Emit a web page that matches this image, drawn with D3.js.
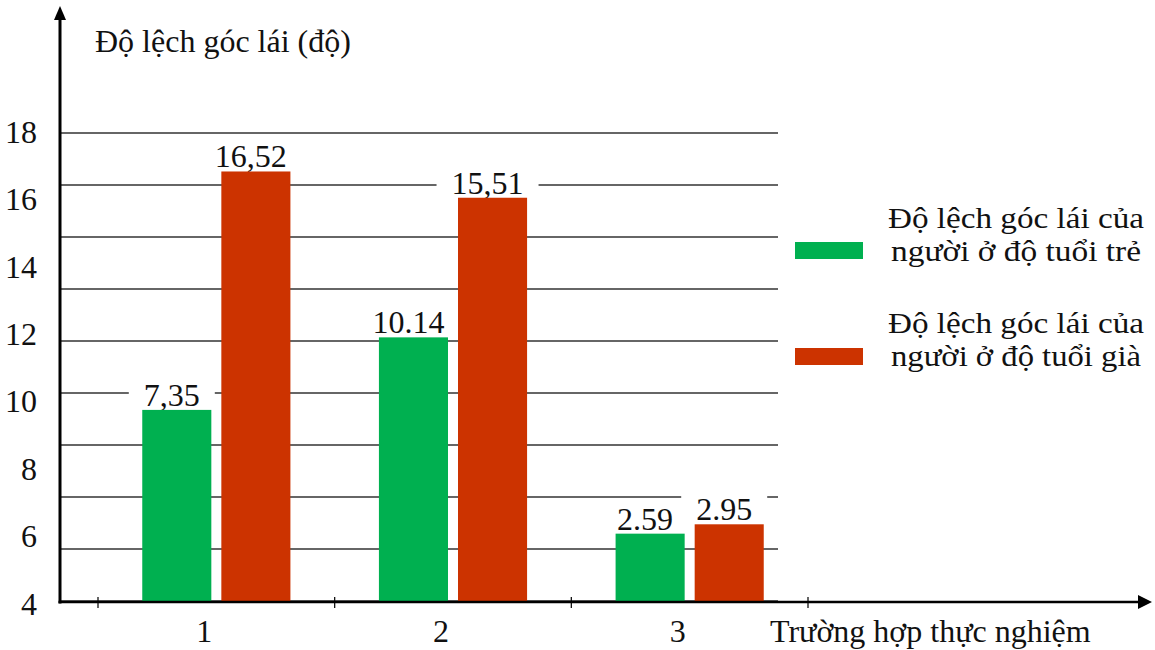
<!DOCTYPE html>
<html>
<head>
<meta charset="utf-8">
<script src="https://cdn.jsdelivr.net/npm/d3@7"></script>
<style>
  html, body { margin: 0; padding: 0; background: #fff; }
  svg { display: block; font-family: "Liberation Serif", "Times New Roman", serif; }
</style>
</head>
<body>
<svg id="chart" width="1155" height="650"></svg>
<script>
// Experimental cases and steering-angle deviation (degrees)
const categories = ["1", "2", "3"];
const seriesNames = [
  ["Độ lệch góc lái của", "người ở độ tuổi trẻ"],
  ["Độ lệch góc lái của", "người ở độ tuổi già"]
];
const seriesColors = ["#00b050", "#cc3300"];
const youngValues = [7.35, 10.14, 2.59];
const oldValues = [16.52, 15.51, 2.95];
const youngLabels = ["7,35", "10.14", "2.59"];
const oldLabels = ["16,52", "15,51", "2.95"];
const gridValues = [0, 2, 4, 6, 8, 10, 12, 14, 16, 18];
const tickLabels = [4, 6, 8, 10, 12, 14, 16, 18];
const yTitle = "Độ lệch góc lái (độ)";
const xTitle = "Trường hợp thực nghiệm";

const FONT = 32;
const svg = d3.select("#chart");

const axisX = 60, axisY = 602, gridRight = 778;

const x0 = d3.scaleBand().domain(categories).range([98, 808])
  .paddingInner(0.374).paddingOuter(0.187);
const x1 = d3.scaleBand().domain([0, 1]).range([0, x0.bandwidth()]).paddingInner(0.1266);
const y = d3.scaleLinear().domain([0, 18]).range([601, 133]);
const yLabel = d3.scaleLinear().domain([4, 18]).range([604, 132]);

// Horizontal gridlines
svg.append("g").selectAll("line").data(gridValues).join("line")
  .attr("x1", axisX).attr("x2", gridRight)
  .attr("y1", d => y(d)).attr("y2", d => y(d))
  .attr("stroke", "#333").attr("stroke-width", 1.4);

// Bar data
const rows = categories.map((c, i) => ({
  cat: c,
  bars: [
    { s: 0, v: youngValues[i], label: youngLabels[i] },
    { s: 1, v: oldValues[i], label: oldLabels[i] }
  ]
}));

const groups = svg.append("g").selectAll("g").data(rows).join("g")
  .attr("transform", d => `translate(${x0(d.cat)},0)`);

// Value labels with white backing that interrupts the gridlines
const lbl = groups.selectAll("g.lbl").data(d => d.bars).join("g").attr("class", "lbl");
lbl.append("text")
  .attr("x", d => x1(d.s) + x1.bandwidth() / 2 - 5)
  .attr("y", d => y(d.v) - 4)
  .attr("text-anchor", "middle")
  .attr("font-size", FONT)
  .attr("fill", "#111")
  .text(d => d.label)
  .each(function () {
    const b = this.getBBox();
    d3.select(this.parentNode).insert("rect", "text")
      .attr("x", b.x - 15).attr("y", b.y + 2)
      .attr("width", b.width + 30).attr("height", b.height - 4)
      .attr("fill", "#fff");
  });

// Bars
groups.selectAll("rect.bar").data(d => d.bars).join("rect").attr("class", "bar")
  .attr("x", d => x1(d.s))
  .attr("y", d => y(d.v))
  .attr("width", x1.bandwidth())
  .attr("height", d => y(0) - y(d.v))
  .attr("fill", d => seriesColors[d.s]);

// Y tick labels
const yAxis = svg.append("g").attr("transform", `translate(${axisX},0)`)
  .call(d3.axisLeft(yLabel).tickValues(tickLabels).tickSize(0).tickPadding(23).tickFormat(d3.format("d")));
yAxis.select(".domain").remove();
yAxis.selectAll("text").attr("font-size", FONT).attr("fill", "#111")
  .attr("font-family", "Liberation Serif, serif");

// X axis ticks at band boundaries
const half = (x0.step() - x0.bandwidth()) / 2;
const bounds = categories.map(c => x0(c) - half).concat([x0(categories[categories.length - 1]) + x0.bandwidth() + half]);
svg.append("g").selectAll("line").data(bounds).join("line")
  .attr("x1", d => d).attr("x2", d => d)
  .attr("y1", axisY - 5).attr("y2", axisY + 6)
  .attr("stroke", "#111").attr("stroke-width", 1.3);

// Category labels
svg.append("g").selectAll("text").data(categories).join("text")
  .attr("x", d => x0(d) + x0.bandwidth() / 2 - 12)
  .attr("y", 642)
  .attr("text-anchor", "middle")
  .attr("font-size", FONT).attr("fill", "#111")
  .text(d => d);

// Axis lines with arrowheads
svg.append("line").attr("x1", axisX).attr("x2", axisX).attr("y1", 18).attr("y2", axisY + 1.5)
  .attr("stroke", "#000").attr("stroke-width", 3);
svg.append("path").attr("d", `M${axisX},6 L${axisX - 6},20 L${axisX + 6},20 Z`).attr("fill", "#000");
svg.append("line").attr("x1", axisX - 1.5).attr("x2", 1140).attr("y1", axisY).attr("y2", axisY)
  .attr("stroke", "#000").attr("stroke-width", 2.6);
svg.append("path").attr("d", `M1152,${axisY} L1138,${axisY - 7} L1138,${axisY + 7} Z`).attr("fill", "#000");

// Axis titles
svg.append("text").attr("x", 95).attr("y", 52).attr("font-size", FONT).attr("fill", "#111").text(yTitle);
svg.append("text").attr("x", 770).attr("y", 642).attr("font-size", FONT).attr("fill", "#111").text(xTitle);

// Legend: swatch plus a two-line caption with tight leading
const LEGEND_FONT = 29.5, LEADING = 33;
const legendRows = [
  { name: seriesNames[0], color: seriesColors[0], swatchY: 242, textY: 228 },
  { name: seriesNames[1], color: seriesColors[1], swatchY: 348, textY: 333 }
];
const lineWidths = [256, 250];
const lg = svg.append("g").selectAll("g").data(legendRows).join("g");
lg.append("rect").attr("x", 795).attr("y", d => d.swatchY).attr("width", 68).attr("height", 17)
  .attr("fill", d => d.color);
lg.selectAll("text").data(d => d.name.map((t, i) => ({ t, i, y: d.textY + i * LEADING }))).join("text")
  .attr("x", 1016)
  .attr("y", d => d.y)
  .attr("text-anchor", "middle")
  .attr("font-size", LEGEND_FONT).attr("fill", "#111")
  .attr("textLength", d => lineWidths[d.i])
  .attr("lengthAdjust", "spacingAndGlyphs")
  .text(d => d.t);
</script>
</body>
</html>
